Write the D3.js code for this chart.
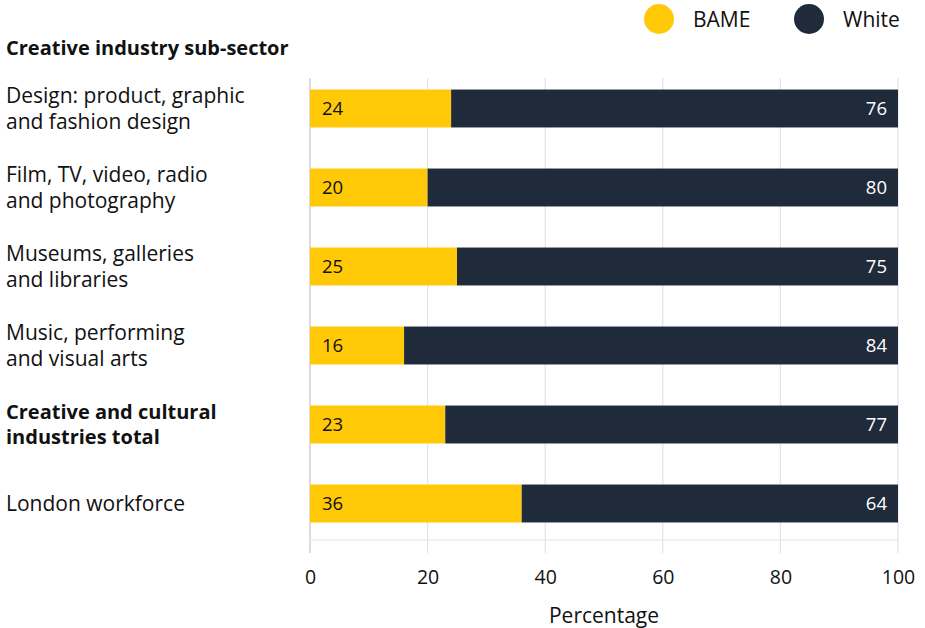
<!DOCTYPE html>
<html>
<head>
<meta charset="utf-8">
<script src="https://cdn.jsdelivr.net/npm/d3@7"></script>
<style>
  body { margin: 0; background: #fff; }
  svg { font-family: 'Open Sans', 'Noto Sans', sans-serif; }
</style>
</head>
<body>
<svg id="chart" width="925" height="628"></svg>
<script>
// data
const categories = [
  ["Design: product, graphic", "and fashion design"],
  ["Film, TV, video, radio", "and photography"],
  ["Museums, galleries", "and libraries"],
  ["Music, performing", "and visual arts"],
  ["Creative and cultural", "industries total"],
  ["London workforce"]
]
const boldRows = [false, false, false, false, true, false]
const bame = [24, 20, 25, 16, 23, 36]
const white = [76, 80, 75, 84, 77, 64]
const xTicks = [0, 20, 40, 60, 80, 100]
const seriesNames = ["BAME", "White"]
const colors = ["#ffc907", "#1f2a3b"]

const fontFam = "'Open Sans', 'Noto Sans', sans-serif"
const svg = d3.select("#chart")

const margin = { left: 310, right: 27 }
const x = d3.scaleLinear().domain([0, 100]).range([margin.left, 925 - margin.right])
const y = d3.scaleBand()
  .domain(d3.range(categories.length))
  .range([69, 543])
  .paddingInner(0.52)
  .paddingOuter(0.26)

// gridlines
const grid = svg.append("g")
grid.selectAll("line.v")
  .data(xTicks)
  .join("line")
  .attr("class", "v")
  .attr("x1", d => x(d)).attr("x2", d => x(d))
  .attr("y1", 78).attr("y2", 553)
  .attr("stroke", d => d === 0 ? "#dcdcdc" : "#e3e3e3")
  .attr("stroke-width", d => d === 0 ? 2 : 1.2)
grid.append("line")
  .attr("x1", x(0)).attr("x2", x(100))
  .attr("y1", 540).attr("y2", 540)
  .attr("stroke", "#e3e3e3")
  .attr("stroke-width", 1.2)

// bars
const rows = svg.append("g").selectAll("g")
  .data(d3.range(categories.length))
  .join("g")

rows.append("rect")
  .attr("x", x(0))
  .attr("y", i => y(i))
  .attr("width", i => x(bame[i]) - x(0))
  .attr("height", y.bandwidth())
  .attr("fill", colors[0])

rows.append("rect")
  .attr("x", i => x(bame[i]))
  .attr("y", i => y(i))
  .attr("width", i => x(bame[i] + white[i]) - x(bame[i]))
  .attr("height", y.bandwidth())
  .attr("fill", colors[1])

rows.append("text")
  .attr("x", x(0) + 12)
  .attr("y", i => y(i) + y.bandwidth() / 2)
  .attr("dy", "0.36em")
  .attr("font-size", 18.5)
  .attr("fill", "#111")
  .text(i => bame[i])

rows.append("text")
  .attr("x", x(100) - 11)
  .attr("y", i => y(i) + y.bandwidth() / 2)
  .attr("dy", "0.36em")
  .attr("text-anchor", "end")
  .attr("font-size", 18.5)
  .attr("fill", "#fff")
  .text(i => white[i])

// category labels
const lineH = 25.5
rows.append("text")
  .attr("font-size", i => boldRows[i] ? 20 : 21)
  .attr("font-weight", i => boldRows[i] ? "bold" : "normal")
  .attr("fill", "#111")
  .each(function(i) {
    const lines = categories[i]
    const cy = y(i) + y.bandwidth() / 2
    const top = cy - (lines.length - 1) * lineH / 2
    d3.select(this).selectAll("tspan")
      .data(lines)
      .join("tspan")
      .attr("x", 6)
      .attr("y", (d, k) => top + k * lineH)
      .attr("dy", "0.36em")
      .text(d => d)
  })

svg.append("text")
  .attr("x", 6).attr("y", 48)
  .attr("dy", "0.36em")
  .attr("font-size", 20)
  .attr("font-weight", "bold")
  .attr("fill", "#111")
  .text("Creative industry sub-sector")

// x axis
const xAxis = d3.axisBottom(x).tickValues(xTicks).tickSize(0).tickPadding(0)
const ax = svg.append("g")
  .attr("transform", "translate(0,577)")
  .call(xAxis)
ax.select(".domain").remove()
ax.selectAll("text")
  .attr("font-size", 19.5)
  .attr("font-family", fontFam)
  .attr("fill", "#111")
  .attr("dy", "0.36em")

svg.append("text")
  .attr("x", (x(0) + x(100)) / 2)
  .attr("y", 615)
  .attr("dy", "0.36em")
  .attr("text-anchor", "middle")
  .attr("font-size", 21)
  .attr("fill", "#111")
  .text("Percentage")

// legend
const legendX = [659, 809]
const lg = svg.append("g").selectAll("g")
  .data(seriesNames)
  .join("g")
  .attr("transform", (d, i) => `translate(${legendX[i]},19)`)
lg.append("circle").attr("r", 15).attr("fill", (d, i) => colors[i])
lg.append("text")
  .attr("x", 34)
  .attr("dy", "0.36em")
  .attr("font-size", 21)
  .attr("fill", "#111")
  .text(d => d)
</script>
</body>
</html>
